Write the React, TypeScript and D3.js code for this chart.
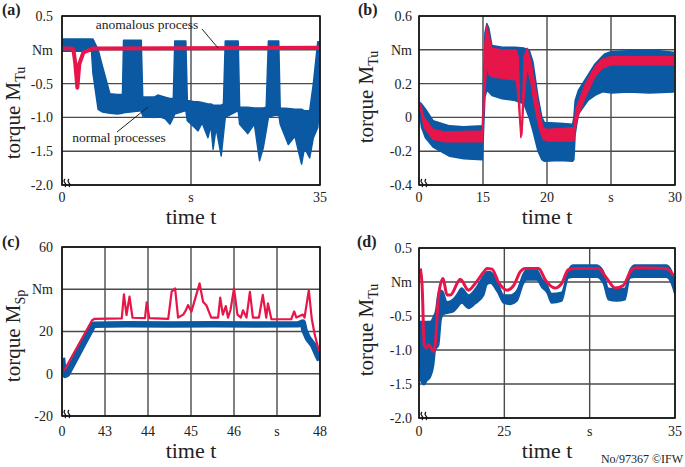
import React from 'react';
import * as d3 from 'd3';

type Band = [number, number, number][]; // [t, upper, lower]
type Pts = [number, number][]; // [t, value]

const BLUE = '#0b59a3';
const RED = '#e6164b';
const GRID = '#4a4a4a';
const FONT = '"Liberation Serif", "Times New Roman", Times, serif';

// ---------- panel (a) ----------
const aXTicks = [0, 17.5, 35];
const aXLabels = ['0', 's', '35'];
const aYTicks = [0.5, 0, -0.5, -1.0, -1.5, -2.0];
const aYLabels = ['0.5', 'Nm', '-0.5', '-1.0', '-1.5', '-2.0'];
const aNormal: Band = [
  [0.1, 0.16, -0.02], [4.0, 0.16, -0.02], [4.2, 0.16, -0.35], [4.9, 0.0, -0.88],
  [5.5, -0.25, -0.92], [6.5, -0.65, -0.94], [7.5, -0.66, -0.95], [8.2, -0.66, -0.94],
  [8.35, 0.14, -0.93], [10.75, 0.14, -0.9], [10.95, -0.70, -0.98], [12.5, -0.70, -1.0],
  [13.0, -0.67, -0.98], [14.0, -0.70, -1.02], [14.65, -0.72, -1.10], [15.1, -0.72, -1.0],
  [15.3, 0.13, -0.95], [16.8, 0.13, -0.9], [17.0, -0.75, -1.05], [18.0, -0.77, -1.15],
  [18.45, -0.77, -1.20], [19.0, -0.78, -1.08], [19.8, -0.80, -1.30], [20.2, -0.80, -1.12],
  [20.5, -0.82, -1.47], [20.9, -0.82, -1.15], [21.6, -0.82, -1.57], [21.9, -0.80, -1.25],
  [22.15, 0.13, -1.0], [23.9, 0.13, -0.9], [24.1, -0.85, -1.1], [25.2, -0.85, -1.24],
  [26.1, -0.86, -1.1], [26.8, -0.86, -1.64], [27.3, -0.86, -1.45], [27.7, -0.85, -1.2],
  [28.0, 0.13, -1.0], [29.4, 0.13, -0.95], [29.6, -0.86, -1.1], [30.7, -0.87, -1.40],
  [31.6, -0.88, -1.28], [32.5, -0.88, -1.69], [32.9, -0.9, -1.45], [33.6, -0.9, -1.6],
  [34.1, -0.5, -1.3], [34.7, 0.12, -1.15], [35.0, 0.12, -0.8],
];
const aAnomalous: Pts = [
  [0.1, 0.02], [1.3, 0.02], [1.55, 0.0], [1.8, -0.2], [2.08, -0.56], [2.35, -0.21],
  [2.9, -0.04], [4.25, 0.02], [35.0, 0.03],
];

// ---------- panel (b) ----------
const bXTicks = [10, 15, 20, 25, 30];
const bXLabels = ['0', '15', '20', 's', '30'];
const bYTicks = [0.6, 0.4, 0.2, 0, -0.2, -0.4];
const bYLabels = ['0.6', 'Nm', '0.2', '0', '-0.2', '-0.4'];
const bNormal: Band = [
  [10.05, 0.09, 0.02], [10.2, 0.08, -0.06], [10.5, 0.05, -0.12], [11.1, -0.02, -0.175],
  [12.4, -0.05, -0.23], [13.5, -0.055, -0.245], [14.95, -0.05, -0.25], [15.15, 0.50, 0.12],
  [15.3, 0.555, 0.16], [15.45, 0.53, 0.15], [15.7, 0.425, 0.13], [16.5, 0.415, 0.11],
  [17.5, 0.415, 0.10], [18.2, 0.41, 0.08], [18.6, 0.40, 0.0], [18.9, 0.33, -0.08],
  [19.3, 0.12, -0.2], [19.6, 0.0, -0.25], [19.8, -0.03, -0.26], [21.0, -0.035, -0.255],
  [22.0, -0.04, -0.26], [22.1, 0.0, -0.25], [22.2, 0.10, -0.10], [22.45, 0.16, 0.02],
  [23.2, 0.25, 0.10], [23.75, 0.316, 0.13], [24.3, 0.36, 0.15], [24.5, 0.375, 0.15],
  [25.05, 0.39, 0.145], [26.35, 0.395, 0.15], [28.0, 0.40, 0.145], [29.87, 0.385, 0.15],
];
const bAnomalous: Band = [
  [10.1, 0.08, 0.05], [10.4, 0.0, -0.06], [11.1, -0.07, -0.13], [12.0, -0.085, -0.145],
  [14.95, -0.08, -0.145], [15.15, 0.45, 0.15], [15.3, 0.545, 0.3], [15.5, 0.48, 0.25],
  [15.7, 0.41, 0.24], [16.5, 0.40, 0.23], [17.6, 0.40, 0.22], [17.75, 0.36, 0.10],
  [17.95, -0.08, -0.12], [18.05, 0.0, -0.10], [18.2, 0.36, 0.10], [18.45, 0.41, 0.30],
  [18.75, 0.33, 0.20], [19.0, 0.22, 0.08], [19.4, 0.04, -0.07], [19.7, -0.06, -0.13],
  [20.0, -0.07, -0.14], [22.1, -0.06, -0.14], [22.25, 0.05, -0.05], [22.5, 0.1, 0.02],
  [23.0, 0.2, 0.12], [23.75, 0.3, 0.24], [24.3, 0.345, 0.29], [25.0, 0.36, 0.31],
  [29.87, 0.36, 0.31],
];

// ---------- panel (c) ----------
const cXTicks = [42, 43, 44, 45, 46, 47, 48];
const cXLabels = ['0', '43', '44', '45', '46', 's', '48'];
const cYTicks = [60, 40, 20, 0, -20];
const cYLabels = ['60', 'Nm', '20', '0', '-20'];
const cNormal: Pts = [
  [42.0, 7.5], [42.03, 1.0], [42.07, -0.5], [42.12, 0.0], [42.73, 23.2], [43.5, 23.4],
  [44.5, 23.3], [45.5, 23.4], [46.5, 23.3], [47.5, 23.4], [47.6, 24.2], [47.64, 20.5],
  [47.72, 16.8], [47.84, 13.6], [47.95, 8.5], [48.0, 6.5],
];
const cAnomalous: Pts = [
  [42.05, 1.5], [42.7, 25.3], [42.76, 26.0], [43.39, 26.2], [43.44, 37.6], [43.5, 27.8],
  [43.57, 36.5], [43.64, 26.5], [43.93, 26.3], [43.97, 33.8], [44.03, 26.3], [44.47, 26.0],
  [44.55, 38.9], [44.63, 40.4], [44.7, 26.6], [44.82, 28.0], [44.88, 30.0], [44.93, 32.5],
  [45.01, 29.4], [45.2, 42.8], [45.28, 34.1], [45.36, 32.3], [45.47, 26.6], [45.63, 26.6],
  [45.68, 36.0], [45.74, 28.0], [45.81, 32.0], [45.86, 26.6], [45.92, 30.3], [46.0, 40.4],
  [46.08, 28.0], [46.16, 26.6], [46.21, 30.0], [46.29, 26.6], [46.37, 38.8], [46.44, 26.6],
  [46.58, 26.6], [46.67, 37.3], [46.75, 26.6], [46.79, 33.3], [46.87, 25.8], [47.33, 25.8],
  [47.4, 29.5], [47.45, 26.6], [47.6, 28.0], [47.64, 26.6], [47.74, 39.6], [47.81, 25.8],
  [47.88, 18.3], [47.97, 11.2], [48.0, 10.3],
];

// ---------- panel (d) ----------
const dXTicks = [20, 25, 30, 35];
const dXLabels = ['0', '25', 's', '35'];
const dYTicks = [0.5, 0, -0.5, -1.0, -1.5, -2.0];
const dYLabels = ['0.5', 'Nm', '-0.5', '-1.0', '-1.5', '-2.0'];
const dNormal: Band = [
  [20.05, -0.58, -1.05], [20.1, -0.58, -1.45], [20.3, -0.58, -1.51], [20.47, -0.58, -1.45],
  [20.66, -0.58, -1.40], [20.86, -0.50, -1.22], [20.96, -0.44, -1.0], [21.15, -0.14, -0.93],
  [21.3, -0.12, -0.55], [21.4, -0.14, -0.485], [21.64, -0.29, -0.46], [22.0, -0.25, -0.44],
  [22.2, -0.19, -0.39], [22.5, -0.09, -0.31], [22.9, -0.19, -0.39], [23.3, -0.10, -0.32],
  [23.8, 0.10, -0.19], [23.98, 0.15, -0.04], [24.18, 0.15, -0.02], [24.6, 0.0, -0.15],
  [24.96, -0.19, -0.31], [25.35, -0.19, -0.33], [25.74, -0.12, -0.28], [26.13, 0.13, -0.02],
  [26.3, 0.18, 0.03], [26.9, 0.18, 0.03], [27.2, 0.05, -0.08], [27.5, -0.04, -0.16],
  [27.77, -0.17, -0.31], [28.36, -0.15, -0.28], [28.75, 0.18, 0.06], [29.04, 0.25, 0.07],
  [30.41, 0.25, 0.07], [30.8, 0.16, -0.02], [31.09, -0.09, -0.26], [31.58, -0.1, -0.28],
  [32.07, -0.09, -0.26], [32.36, 0.18, 0.06], [32.65, 0.25, 0.07], [34.5, 0.25, 0.07],
  [34.8, 0.16, -0.03], [35.0, 0.0, -0.19],
];
const dAnomalous: Pts = [
  [20.08, 0.20], [20.18, -0.04], [20.31, -0.93], [20.45, -0.97], [20.55, -0.92], [20.7, -0.97],
  [20.85, -1.02], [20.96, -0.90], [21.15, -0.19], [21.41, 0.05], [21.64, -0.19], [21.84, -0.19],
  [22.42, 0.04], [22.9, -0.12], [23.3, -0.02], [23.8, 0.15], [23.98, 0.20], [24.28, 0.19],
  [24.65, 0.0], [25.16, -0.12], [25.55, -0.05], [25.93, 0.15], [26.22, 0.20], [27.01, 0.20],
  [27.4, 0.03], [27.97, -0.09], [28.36, -0.02], [28.75, 0.18], [29.14, 0.20], [30.5, 0.20],
  [31.0, 0.055], [31.5, -0.09], [31.97, -0.05], [32.46, 0.18], [32.75, 0.21], [34.5, 0.20],
  [34.9, 0.10],
];

interface PanelDef {
  tag: string;
  x0: number; x1: number; y0: number; y1: number;
  xDomain: [number, number]; xTicks: number[]; xLabels: string[];
  yDomain: [number, number]; yTicks: number[]; yLabels: string[];
  ySub: string; yLabelX: number; yLabelY: number;
  tagX: number; tagY: number; yTickX: number;
  xTickY: number; xTitleY: number;
}

type Scale = d3.ScaleLinear<number, number>;

function Panel({ def, draw }: { def: PanelDef; draw: (x: Scale, y: Scale) => React.ReactNode }) {
  const x = d3.scaleLinear().domain(def.xDomain).range([def.x0, def.x1]);
  const y = d3.scaleLinear().domain(def.yDomain).range([def.y1, def.y0]);
  const bx = def.x0;
  const by = def.y1;
  return (
    <g>
      {def.yTicks.map((t) => (
        <line key={'h' + t} x1={def.x0} x2={def.x1} y1={y(t)} y2={y(t)} stroke={GRID} strokeWidth={1.4} />
      ))}
      {def.xTicks.map((t) => (
        <line key={'v' + t} x1={x(t)} x2={x(t)} y1={def.y0} y2={def.y1} stroke={GRID} strokeWidth={1.4} />
      ))}
      <clipPath id={`clip-${def.tag}`}>
        <rect x={def.x0} y={def.y0} width={def.x1 - def.x0} height={def.y1 - def.y0} />
      </clipPath>
      <g clipPath={`url(#clip-${def.tag})`}>{draw(x, y)}</g>
      <rect x={def.x0} y={def.y0} width={def.x1 - def.x0} height={def.y1 - def.y0} fill="none" stroke="#111" strokeWidth={1.6} />
      {/* axis break marks */}
      <path d={`M${bx + 3},${by + 2} q2,-2 0,-4 q-2,-2 0,-4`} fill="none" stroke="#111" strokeWidth={1.1} />
      <path d={`M${bx + 7},${by + 2} q2,-2 0,-4 q-2,-2 0,-4`} fill="none" stroke="#111" strokeWidth={1.1} />
      {def.yTicks.map((t, i) => (
        <text key={'yl' + t} x={def.yTickX} y={y(t)} dy="0.35em" textAnchor="end" fontSize={14} fontFamily={FONT} fill="#222">
          {def.yLabels[i]}
        </text>
      ))}
      {def.xTicks.map((t, i) => (
        <text key={'xl' + t} x={x(t)} y={def.xTickY} textAnchor="middle" fontSize={14} fontFamily={FONT} fill="#222">
          {def.xLabels[i]}
        </text>
      ))}
      <text x={(def.x0 + def.x1) / 2} y={def.xTitleY} textAnchor="middle" fontSize={22} fontFamily={FONT} fill="#222">
        time t
      </text>
      <text
        transform={`translate(${def.yLabelX},${def.yLabelY}) rotate(-90)`}
        textAnchor="middle"
        fontSize={21}
        fontFamily={FONT}
        fill="#222"
      >
        torque M
        <tspan fontSize={14} dy={5}>{def.ySub}</tspan>
      </text>
      <text x={def.tagX} y={def.tagY} fontSize={16} fontWeight="bold" fontFamily={FONT} fill="#222">
        ({def.tag})
      </text>
    </g>
  );
}

const bandArea = (x: Scale, y: Scale, curve: d3.CurveFactory = d3.curveLinear) =>
  d3.area<[number, number, number]>()
    .x((d) => x(d[0]))
    .y0((d) => y(d[2]))
    .y1((d) => y(d[1]))
    .curve(curve);

const linePath = (x: Scale, y: Scale, curve: d3.CurveFactory = d3.curveLinear) =>
  d3.line<[number, number]>()
    .x((d) => x(d[0]))
    .y((d) => y(d[1]))
    .curve(curve);

const defA: PanelDef = {
  tag: 'a', x0: 62, x1: 320, y0: 16, y1: 185,
  xDomain: [0, 35], xTicks: aXTicks, xLabels: aXLabels,
  yDomain: [-2.0, 0.5], yTicks: aYTicks, yLabels: aYLabels,
  ySub: 'Tu', yLabelX: 20, yLabelY: 113, tagX: 2, tagY: 15, yTickX: 53,
  xTickY: 202, xTitleY: 224,
};
const defB: PanelDef = {
  tag: 'b', x0: 419, x1: 675, y0: 16, y1: 185,
  xDomain: [10, 30], xTicks: bXTicks, xLabels: bXLabels,
  yDomain: [-0.4, 0.6], yTicks: bYTicks, yLabels: bYLabels,
  ySub: 'Tu', yLabelX: 373, yLabelY: 97, tagX: 358, tagY: 15, yTickX: 412,
  xTickY: 202, xTitleY: 224,
};
const defC: PanelDef = {
  tag: 'c', x0: 62, x1: 320, y0: 247, y1: 416,
  xDomain: [42, 48], xTicks: cXTicks, xLabels: cXLabels,
  yDomain: [-20, 60], yTicks: cYTicks, yLabels: cYLabels,
  ySub: 'Sp', yLabelX: 20, yLabelY: 336, tagX: 2, tagY: 247, yTickX: 53,
  xTickY: 436, xTitleY: 458,
};
const defD: PanelDef = {
  tag: 'd', x0: 419, x1: 675, y0: 248, y1: 418,
  xDomain: [20, 35], xTicks: dXTicks, xLabels: dXLabels,
  yDomain: [-2.0, 0.5], yTicks: dYTicks, yLabels: dYLabels,
  ySub: 'Tu', yLabelX: 373, yLabelY: 330, tagX: 357, tagY: 247, yTickX: 412,
  xTickY: 436, xTitleY: 458,
};

export default function App() {
  return (
    <svg
      width={685}
      height={467}
      viewBox="0 0 685 467"
      style={{ position: 'absolute', left: 0, top: 0, background: '#fff' }}
    >
      <rect x={0} y={0} width={685} height={467} fill="#fff" />
      <Panel
        def={defA}
        draw={(x, y) => (
          <>
            <path d={bandArea(x, y)(aNormal) ?? ''} fill={BLUE} stroke={BLUE} strokeWidth={1.5} strokeLinejoin="round" />
            <path d={linePath(x, y)(aAnomalous) ?? ''} fill="none" stroke={RED} strokeWidth={4} strokeLinejoin="round" />
          </>
        )}
      />
      {/* annotations for (a) */}
      <text x={147} y={29} textAnchor="middle" fontSize={13.5} fontFamily={FONT} fill="#222">anomalous process</text>
      <line x1={202} y1={29} x2={218} y2={48} stroke="#222" strokeWidth={1} />
      <text x={119} y={142} textAnchor="middle" fontSize={13.5} fontFamily={FONT} fill="#222">normal processes</text>
      <line x1={117} y1={132} x2={148} y2={107} stroke="#222" strokeWidth={1} />

      <Panel
        def={defB}
        draw={(x, y) => (
          <>
            <path d={bandArea(x, y)(bNormal) ?? ''} fill={BLUE} stroke={BLUE} strokeWidth={1.5} strokeLinejoin="round" />
            <path d={bandArea(x, y)(bAnomalous) ?? ''} fill={RED} stroke={RED} strokeWidth={1.2} strokeLinejoin="round" />
          </>
        )}
      />
      <Panel
        def={defC}
        draw={(x, y) => (
          <>
            <path d={linePath(x, y)(cNormal) ?? ''} fill="none" stroke={BLUE} strokeWidth={6.5} strokeLinejoin="round" />
            <path d={linePath(x, y)(cAnomalous) ?? ''} fill="none" stroke={RED} strokeWidth={2.2} strokeLinejoin="round" />
          </>
        )}
      />
      <Panel
        def={defD}
        draw={(x, y) => (
          <>
            <path d={bandArea(x, y, d3.curveMonotoneX)(dNormal) ?? ''} fill={BLUE} stroke={BLUE} strokeWidth={1.5} strokeLinejoin="round" />
            <path d={linePath(x, y, d3.curveMonotoneX)(dAnomalous) ?? ''} fill="none" stroke={RED} strokeWidth={3} strokeLinejoin="round" />
          </>
        )}
      />
      <text x={683} y={463} textAnchor="end" fontSize={12} fontFamily={FONT} fill="#222">No/97367 ©IFW</text>
    </svg>
  );
}
